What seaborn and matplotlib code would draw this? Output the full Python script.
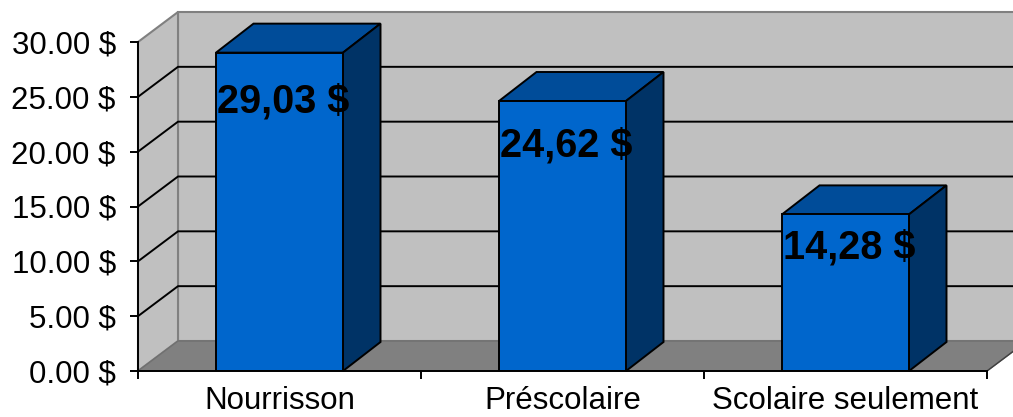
import matplotlib
matplotlib.use("Agg")
import matplotlib.pyplot as plt
import seaborn as sns
import pandas as pd
from matplotlib.patches import Polygon

categories = ["Nourrisson", "Préscolaire", "Scolaire seulement"]
values = [29.03, 24.62, 14.28]
value_labels = ["29,03 $", "24,62 $", "14,28 $"]
yticks = [0, 5, 10, 15, 20, 25, 30]
ytick_labels = [f"{v:.2f} $" for v in yticks]

sns.set_theme(style="white")
plt.rcParams["font.family"] = ["Liberation Sans", "DejaVu Sans"]

W, H = 1013, 417
fig = plt.figure(figsize=(W / 100, H / 100), dpi=100)
fig.patch.set_facecolor("white")
ax = fig.add_axes([138 / W, 46 / H, 849 / W, 329 / H])

FRONT = "#0066CC"
TOP = "#004C99"
SIDE = "#003366"
WALL = "#C0C0C0"
FLOOR = "#808080"

df = pd.DataFrame({"cat": categories, "val": values})
sns.barplot(data=df, x="cat", y="val", color=FRONT, saturation=1,
            width=127 / 283, edgecolor="black", linewidth=1.4, ax=ax, zorder=3)
bars = list(ax.patches)

ax.set_xlim(-0.5, 2.5)
ax.set_ylim(0, 30)

px_x = 849 / 3.0      # pixels per category unit
px_y = 329 / 30.0     # pixels per value unit
OX, OY = 40 / px_x, 30 / px_y
BX, BY = 37.5 / px_x, 29 / px_y

def poly(pts, fc, ec, z, lw=1.0):
    p = Polygon(pts, closed=True, facecolor=fc, edgecolor=ec, lw=lw,
                zorder=z, clip_on=False, transform=ax.transData)
    ax.add_patch(p)

# walls and floor
poly([(-0.5, 0), (-0.5 + OX, OY), (-0.5 + OX, 30 + OY), (-0.5, 30)], WALL, "#808080", 0.2, 1.5)
poly([(-0.5 + OX, OY), (3.2, OY), (3.2, 30 + OY), (-0.5 + OX, 30 + OY)], WALL, "#808080", 0.1, 1.5)
poly([(-0.5, 0), (2.5, 0), (2.5 + OX, OY), (-0.5 + OX, OY)], FLOOR, "#707070", 0.5, 1.0)
ax.plot([2.5, 2.5 + OX], [0, OY], color="#404040", lw=1.0, clip_on=False, zorder=0.6)

for v in yticks[1:-1]:
    ax.plot([-0.5, -0.5 + OX, 3.2], [v, v + OY, v + OY], color="black",
            lw=1.4, clip_on=False, zorder=0.4)

# 3D parts of bars
for b in bars:
    x0, w, h = b.get_x(), b.get_width(), b.get_height()
    poly([(x0, h), (x0 + w, h), (x0 + w + BX, h + BY), (x0 + BX, h + BY)], TOP, "black", 2, 1.4)
    poly([(x0 + w, 0), (x0 + w + BX, BY), (x0 + w + BX, h + BY), (x0 + w, h)], SIDE, "black", 2, 1.4)

for b, v, lab in zip(bars, values, value_labels):
    ax.text(b.get_x() + 0.004, 0.9 * v - 2.57, lab, ha="left", va="baseline",
            fontsize=28.5, fontweight="bold", color="black", zorder=5)

# axes styling
for s in ["top", "right"]:
    ax.spines[s].set_visible(False)
for s in ["left", "bottom"]:
    ax.spines[s].set_color("black")
    ax.spines[s].set_linewidth(1.4)
    ax.spines[s].set_zorder(4)

ax.set_yticks(yticks)
ax.set_yticklabels(ytick_labels)
ax.set_xticks([0, 1, 2])
ax.set_xticklabels(categories)
ax.set_xticks([-0.5, 0.5, 1.5, 2.5], minor=True)
ax.tick_params(axis="y", left=True, direction="out", length=6, width=1.4,
               pad=10, labelsize=22.5, colors="black")
ax.tick_params(axis="x", which="major", bottom=True, length=0, pad=11,
               labelsize=22.5, colors="black")
ax.tick_params(axis="x", which="minor", bottom=True, direction="out",
               length=6, width=1.4, color="black")
ax.set_xlabel("")
ax.set_ylabel("")
ax.set_facecolor("none")

fig.savefig("out.png", dpi=100, facecolor="white")
